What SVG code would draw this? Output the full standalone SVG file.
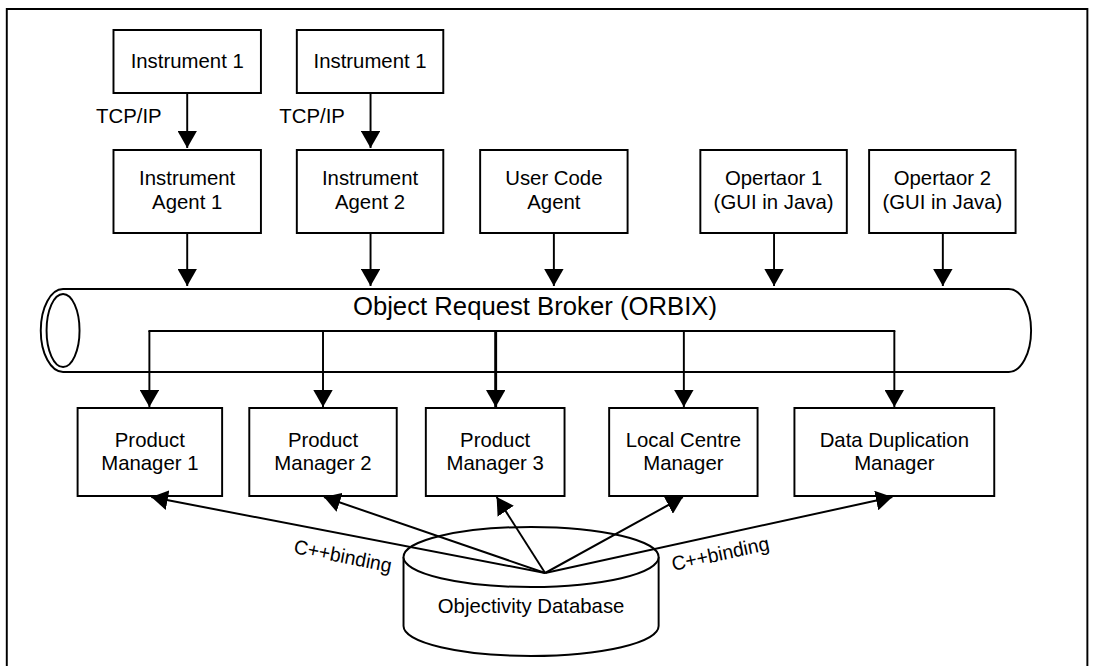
<svg xmlns="http://www.w3.org/2000/svg" width="1096" height="666" viewBox="0 0 1096 666">
<style>
.box{fill:#fff;stroke:#000;stroke-width:2}
.t{font-family:"Liberation Sans",Arial,sans-serif;font-size:21px;fill:#000;text-anchor:middle}
.lbl{font-family:"Liberation Sans",Arial,sans-serif;font-size:21px;fill:#000}
.c{fill:none;stroke:#000;stroke-width:2;marker-end:url(#ah)}
.p{fill:none;stroke:#000;stroke-width:2}
</style>
<defs>
<marker id="ah" viewBox="0 0 17 20" refX="17" refY="10" markerWidth="17" markerHeight="20" markerUnits="userSpaceOnUse" orient="auto">
<path d="M0,0 L17,10 L0,20 Z" fill="#000"/>
</marker>
</defs>
<rect x="0" y="0" width="1096" height="666" fill="#fff"/>
<g id="diagram" transform="scale(0.97,1)">
<rect id="frame" x="7" y="9" width="1114" height="662" fill="none" stroke="#000" stroke-width="2"/>

<g id="pipe">
<path d="M65,289 L1040,289 A23,41.5 0 0 1 1040,372 L65,372 A23,41.5 0 0 1 65,289 Z" fill="#fff" stroke="#000" stroke-width="2"/>
<ellipse cx="65" cy="330.5" rx="17" ry="36.5" fill="#fff" stroke="#000" stroke-width="2"/>
<text x="551.5" y="315" class="t" style="font-size:26.5px">Object Request Broker (ORBIX)</text>
</g>

<g id="inst1"><rect class="box" x="117" y="30" width="152" height="63"/><text class="t" x="193" y="68">Instrument 1</text></g>
<g id="inst2"><rect class="box" x="306" y="30" width="151" height="63"/><text class="t" x="381.5" y="68">Instrument 1</text></g>
<g id="agent1"><rect class="box" x="117" y="150" width="152" height="83"/><text class="t" x="193" y="185">Instrument</text><text class="t" x="193" y="209">Agent 1</text></g>
<g id="agent2"><rect class="box" x="306" y="150" width="151" height="83"/><text class="t" x="381.5" y="185">Instrument</text><text class="t" x="381.5" y="209">Agent 2</text></g>
<g id="usercode"><rect class="box" x="495" y="150" width="152" height="83"/><text class="t" x="571" y="185">User Code</text><text class="t" x="571" y="209">Agent</text></g>
<g id="op1"><rect class="box" x="722" y="150" width="151" height="83"/><text class="t" x="797.5" y="185">Opertaor 1</text><text class="t" x="797.5" y="209">(GUI in Java)</text></g>
<g id="op2"><rect class="box" x="896" y="150" width="151" height="83"/><text class="t" x="971.5" y="185">Opertaor 2</text><text class="t" x="971.5" y="209">(GUI in Java)</text></g>

<g id="pm1"><rect class="box" x="80" y="408" width="149" height="88"/><text class="t" x="154.5" y="447">Product</text><text class="t" x="154.5" y="470">Manager 1</text></g>
<g id="pm2"><rect class="box" x="257" y="408" width="152" height="88"/><text class="t" x="333" y="447">Product</text><text class="t" x="333" y="470">Manager 2</text></g>
<g id="pm3"><rect class="box" x="439" y="408" width="143" height="88"/><text class="t" x="510.5" y="447">Product</text><text class="t" x="510.5" y="470">Manager 3</text></g>
<g id="lcm"><rect class="box" x="628" y="408" width="153" height="88"/><text class="t" x="704.5" y="447">Local Centre</text><text class="t" x="704.5" y="470">Manager</text></g>
<g id="ddm"><rect class="box" x="819" y="408" width="206" height="88"/><text class="t" x="922" y="447">Data Duplication</text><text class="t" x="922" y="470">Manager</text></g>

<g id="db">
<path d="M416,557 L416,626 A131.5,30 0 0 0 679,626 L679,557" fill="#fff" stroke="#000" stroke-width="2"/>
<ellipse cx="547.5" cy="557" rx="131.5" ry="30" fill="#fff" stroke="#000" stroke-width="2"/>
<text class="t" x="547.5" y="613">Objectivity Database</text>
</g>

<g id="connectors">
<line class="c" x1="193" y1="93" x2="193" y2="148"/>
<line class="c" x1="382" y1="93" x2="382" y2="148"/>
<line class="c" x1="193" y1="233" x2="193" y2="286"/>
<line class="c" x1="382" y1="233" x2="382" y2="286"/>
<line class="c" x1="571" y1="233" x2="571" y2="286"/>
<line class="c" x1="798" y1="233" x2="798" y2="286"/>
<line class="c" x1="972" y1="233" x2="972" y2="286"/>
<line class="p" x1="153" y1="331" x2="923" y2="331"/>
<line class="c" x1="154" y1="331" x2="154" y2="407"/>
<line class="c" x1="333" y1="331" x2="333" y2="407"/>
<line class="c" x1="511" y1="331" x2="511" y2="407" style="stroke-width:3"/>
<line class="c" x1="705" y1="331" x2="705" y2="407"/>
<line class="c" x1="922" y1="331" x2="922" y2="407"/>
<line class="c" x1="562" y1="573" x2="156" y2="497"/>
<line class="c" x1="562" y1="573" x2="334" y2="497"/>
<line class="c" x1="562" y1="573" x2="512" y2="497"/>
<line class="c" x1="562" y1="573" x2="704" y2="497"/>
<line class="c" x1="562" y1="573" x2="920" y2="497"/>
<text class="lbl" x="99" y="123">TCP/IP</text>
<text class="lbl" x="288" y="123">TCP/IP</text>
<text class="lbl" style="font-size:20px" transform="translate(302,553) rotate(11)">C++binding</text>
<text class="lbl" style="font-size:20px" transform="translate(694,571) rotate(-12)">C++binding</text>
</g>
</g>
</svg>
